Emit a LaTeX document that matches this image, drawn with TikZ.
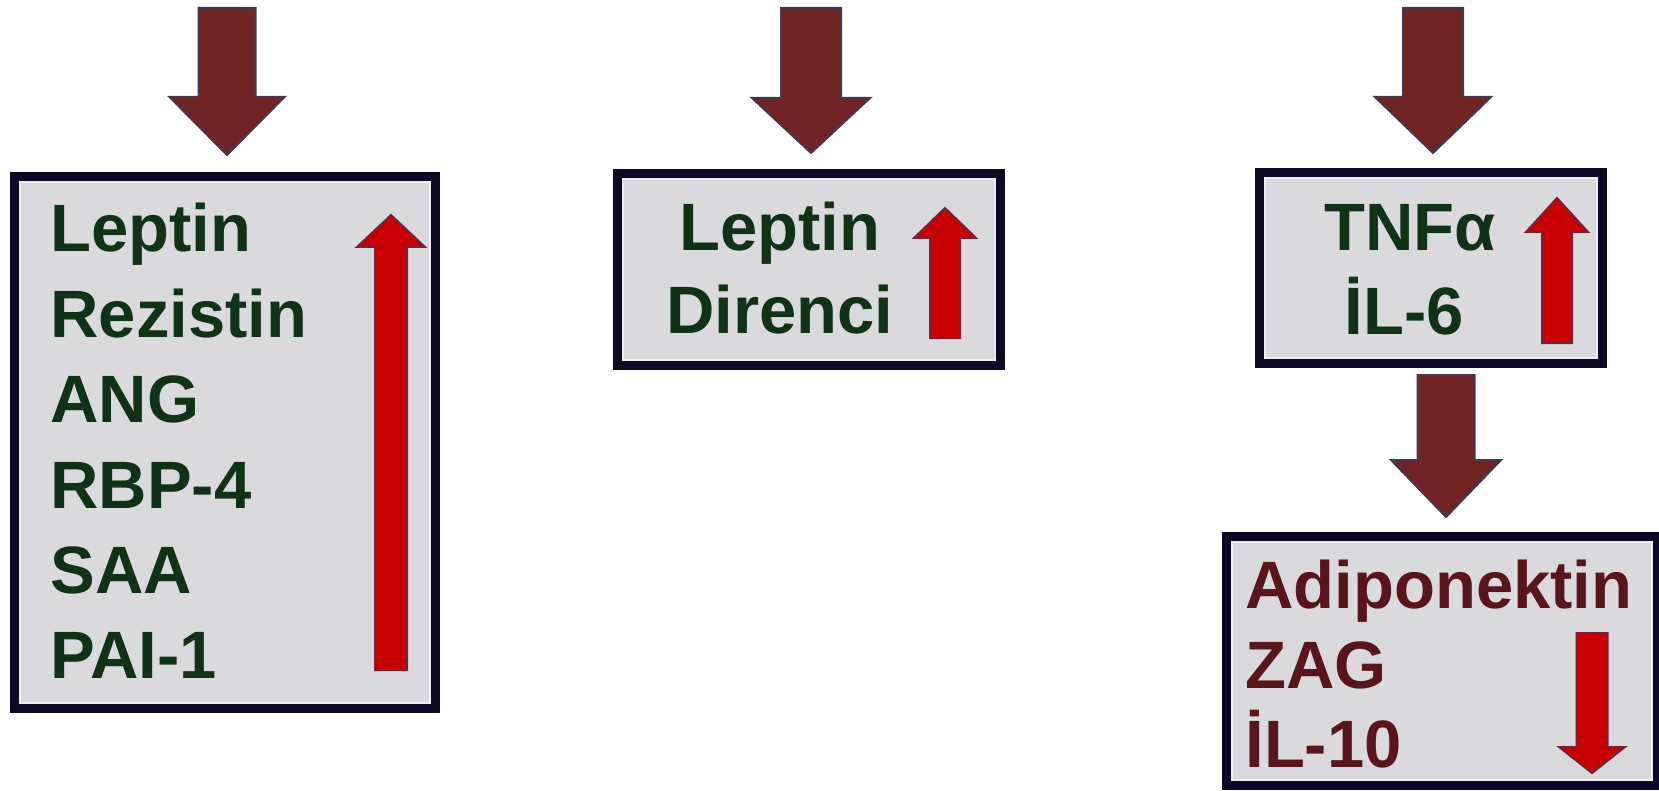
\documentclass[tikz,border=0pt]{standalone}
\usepackage{fontspec}
\setmainfont{Liberation Sans}
\usetikzlibrary{calc}
\definecolor{boxfill}{RGB}{218,218,221}
\definecolor{boxline}{RGB}{12,8,38}
\definecolor{innerln}{RGB}{238,236,246}
\definecolor{txtgreen}{RGB}{16,50,22}
\definecolor{txtred}{RGB}{88,22,28}
\definecolor{bigfill}{RGB}{112,36,36}
\definecolor{bigline}{RGB}{68,56,78}
\definecolor{redfill}{RGB}{200,0,4}
\definecolor{redline}{RGB}{118,34,56}
\newcommand{\blockarr}[8]{%
  % #1 style, #2 cx, #3 ystart, #4 ybase, #5 ytip, #6 half shaft, #7 half head, #8 name
  \draw[#1] ({#2-#6},#3) coordinate (#8-start) -- ({#2+#6},#3) -- ({#2+#6},#4) -- ({#2+#7},#4)
    -- (#2,#5) coordinate (#8-tip) -- ({#2-#7},#4) -- ({#2-#6},#4) -- cycle;}
\begin{document}
\begin{tikzpicture}[x=0.5pt,y=-0.5pt,
  box/.style={draw=boxline, fill=boxfill, line width=4.5pt, inner sep=0pt},
  innerline/.style={draw=innerln, line width=1pt},
  gtxt/.style={text=txtgreen, font=\fontsize{33.5}{40}\selectfont\bfseries, inner sep=0pt},
  rtxt/.style={text=txtred, font=\fontsize{33.5}{40}\selectfont\bfseries, inner sep=0pt},
  bigarrow/.style={fill=bigfill, draw=bigline, line width=1pt, line join=miter},
  redarrow/.style={fill=redfill, draw=redline, line width=1pt, line join=miter}]
\useasboundingbox (0,0) rectangle (1659,791);
\fill[white] (0,0) rectangle (1659,791);

% boxes
\node[box, minimum width=210.5pt, minimum height=266pt] (b1) at (225,442.5) {};
\node[box, minimum width=191.5pt, minimum height=96pt] (b2) at (809,269.5) {};
\node[box, minimum width=171.5pt, minimum height=95.5pt] (b3) at (1431,268) {};
\node[box, minimum width=215.5pt, minimum height=124.5pt] (b4) at (1442,661) {};
\foreach \b in {b1,b2,b3,b4}
  \draw[innerline] ($(\b.north west)+(10,10)$) rectangle ($(\b.south east)+(-10,-10)$);

% big brown arrows
\blockarr{bigarrow}{227}{8}{97}{155}{28.5}{57.5}{a1}
\blockarr{bigarrow}{811}{8}{98}{153}{30}{59}{a2}
\blockarr{bigarrow}{1433}{8}{97}{153}{30}{58}{a3}
\blockarr{bigarrow}{1446}{375}{460}{517}{28.5}{55}{a4}

% red arrows
\blockarr{redarrow}{391}{670}{247}{215}{16}{34}{r1}
\blockarr{redarrow}{945}{338}{238}{208}{15}{31}{r2}
\blockarr{redarrow}{1557}{343}{232}{198}{15}{31}{r3}
\blockarr{redarrow}{1592}{633}{747}{773}{15.5}{33}{r4}

% box 1 texts
\node[gtxt, anchor=base west] (t11) at (50,252) {Leptin};
\node[gtxt, anchor=base west] (t12) at (50,337) {Rezistin};
\node[gtxt, anchor=base west] (t13) at (50,422) {ANG};
\node[gtxt, anchor=base west] (t14) at (50,508) {RBP-4};
\node[gtxt, anchor=base west] (t15) at (50,593) {SAA};
\node[gtxt, anchor=base west] (t16) at (50,678) {PAI-1};

% box 2 texts
\node[gtxt, anchor=base] (t21) at (780,250) {Leptin};
\node[gtxt, anchor=base] (t22) at (780,333) {Direnci};

% box 3 texts
\node[gtxt, anchor=base] (t31) at (1410,250) {TNFα};
\node[gtxt, anchor=base] (t32) at (1404,335) {İL-6};

% box 4 texts
\node[rtxt, anchor=base west] (t41) at (1245,608) {Adiponektin};
\node[rtxt, anchor=base west] (t42) at (1245,688) {ZAG};
\node[rtxt, anchor=base west] (t43) at (1245,767) {İL-10};
\end{tikzpicture}
\end{document}
